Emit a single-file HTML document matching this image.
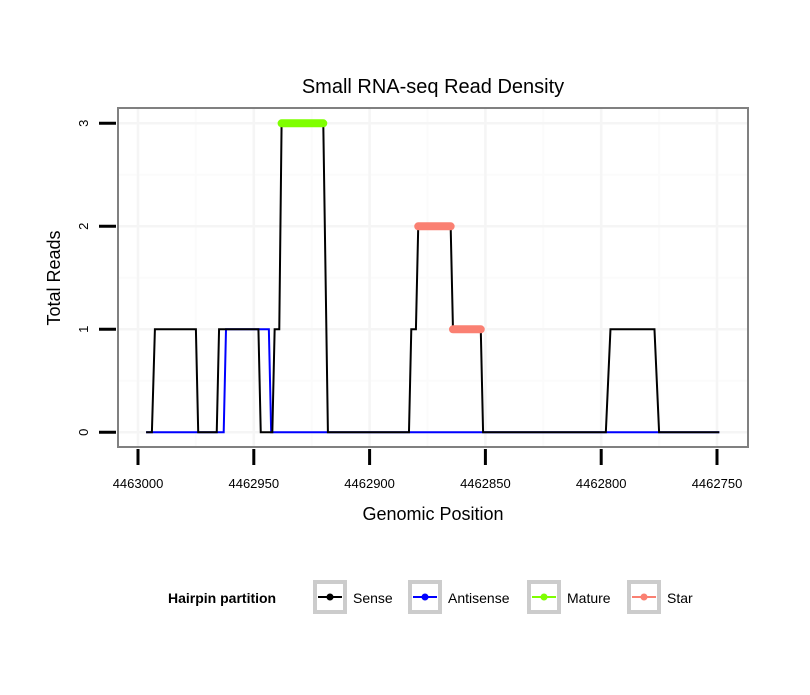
<!DOCTYPE html>
<html><head><meta charset="utf-8"><style>
body{margin:0;background:#fff}
svg text{font-family:"Liberation Sans",sans-serif}
</style></head><body>
<svg width="810" height="690" xmlns="http://www.w3.org/2000/svg">
<rect width="810" height="690" fill="#fff"/>
<text x="433" y="93" font-size="20" text-anchor="middle">Small RNA-seq Read Density</text>
<g id="grid"></g>
<g id="series"></g>
<rect x="118" y="108" width="630" height="339" fill="none" stroke="#808080" stroke-width="2"/>
<g id="axes"></g>
<text x="433" y="520" font-size="18" text-anchor="middle">Genomic Position</text>
<text transform="translate(60,278) rotate(-90)" font-size="18" text-anchor="middle">Total Reads</text>
<g id="legend">
<text x="168" y="603" font-size="14" font-weight="bold">Hairpin partition</text>
</g>
</svg>
<script>
const xTicks=[4463000,4462950,4462900,4462850,4462800,4462750];
const yTicks=[0,1,2,3];
const senseX=[4462996.5,4462994,4462992.7,4462975,4462974,4462966,4462965,4462948,4462947,4462942,4462941,4462939,4462938,4462920,4462918,4462883,4462882,4462880,4462879,4462865,4462864,4462852,4462851,4462798,4462796,4462777,4462775,4462749];
const senseY=[0,0,1,1,0,0,1,1,0,0,1,1,3,3,0,0,1,1,2,2,1,1,0,0,1,1,0,0];
const antiX=[4462996.5,4462963,4462962,4462943.5,4462942.5,4462749];
const antiY=[0,0,1,1,0,0];
const matureX=[4462938,4462920];
const matureY=[3,3];
const starX=[4462879,4462865];
const starY=[2,2];
const star2X=[4462864,4462852];
const star2Y=[1,1];
const legendLabels=["Sense","Antisense","Mature","Star"];
const legendColors=["#000000","#0000ff","#7fff00","#fa8072"];

const NS="http://www.w3.org/2000/svg";
const sx=v=>138+(4463000-v)*2.316;
const sy=v=>432.3-v*103;
function mk(tag,attrs,parent){const e=document.createElementNS(NS,tag);for(const k in attrs)e.setAttribute(k,attrs[k]);parent.appendChild(e);return e;}
const grid=document.getElementById('grid'),axes=document.getElementById('axes'),series=document.getElementById('series'),legend=document.getElementById('legend');
for(let i=0;i<xTicks.length-1;i++){const v=(xTicks[i]+xTicks[i+1])/2;const l=mk('line',{x1:sx(v),x2:sx(v),y1:108,y2:447,stroke:'#fbfbfb','stroke-width':2},grid);
}
for(let i=0;i<yTicks.length-1;i++){const v=(yTicks[i]+yTicks[i+1])/2;const l=mk('line',{x1:118,x2:748,y1:sy(v),y2:sy(v),stroke:'#fbfbfb','stroke-width':2},grid);
}
xTicks.forEach(v=>{const l=mk('line',{x1:sx(v),x2:sx(v),y1:108,y2:447,stroke:'#f5f5f5','stroke-width':2.5},grid);

const t=mk('line',{x1:sx(v),x2:sx(v),y1:449,y2:465,stroke:'#000','stroke-width':3},axes);

const tx=mk('text',{x:sx(v),y:488,'font-size':13,'text-anchor':'middle'},axes);tx.textContent=v;
});
yTicks.forEach(v=>{const l=mk('line',{x1:118,x2:748,y1:sy(v),y2:sy(v),stroke:'#f5f5f5','stroke-width':2.5},grid);

const t=mk('line',{x1:99,x2:116,y1:sy(v),y2:sy(v),stroke:'#000','stroke-width':3},axes);

const tx=mk('text',{transform:`translate(88,${sy(v)}) rotate(-90)`,'font-size':13,'text-anchor':'middle'},axes);tx.textContent=v;
});
function line(xs,ys,color,w,name,cap){const p=mk('polyline',{points:xs.map((x,i)=>sx(x)+','+sy(ys[i])).join(' '),fill:'none',stroke:color,'stroke-width':w,'stroke-linecap':cap||'butt','stroke-linejoin':'miter'},series);
}
line(antiX,antiY,'#0000ff',2,'antisense-line');
line(senseX,senseY,'#000000',2,'sense-line');
line(matureX,matureY,'#7fff00',8,'mature-line','round');
line(starX,starY,'#fa8072',8,'star-line','round');
line(star2X,star2Y,'#fa8072',8,'star-line-2','round');
const lx=[313,408,527,627];
legendLabels.forEach((lab,i)=>{const g=mk('g',{},legend);

mk('rect',{x:lx[i]+2,y:582,width:30,height:30,fill:'#fff',stroke:'#cccccc','stroke-width':4},g);
mk('line',{x1:lx[i]+5,x2:lx[i]+29,y1:597,y2:597,stroke:legendColors[i],'stroke-width':2},g);
mk('circle',{cx:lx[i]+17,cy:597,r:3.5,fill:legendColors[i]},g);
const t=mk('text',{x:lx[i]+40,y:603,'font-size':14},g);t.textContent=lab;});
</script>
</body></html>
